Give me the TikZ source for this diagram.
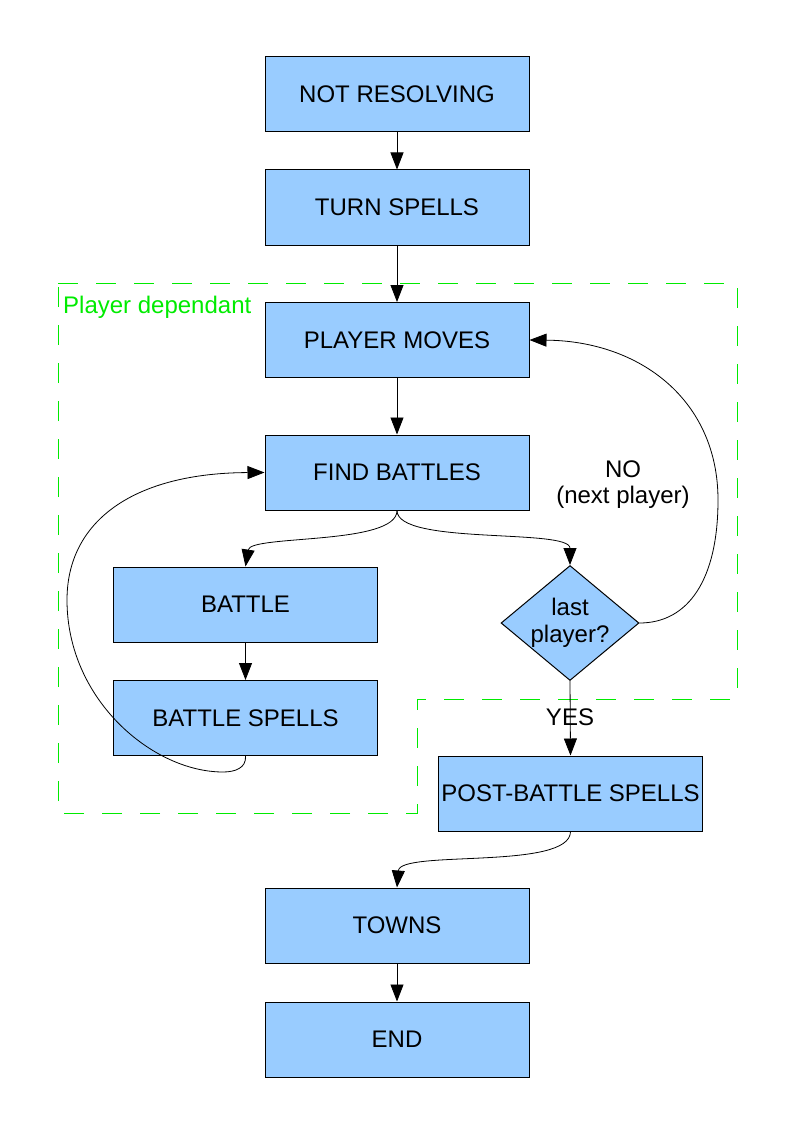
\documentclass[tikz,border=0pt]{standalone}
\usepackage{fontspec}
\setmainfont{Liberation Sans}
\usetikzlibrary{shapes.geometric,arrows.meta}
\definecolor{boxblue}{RGB}{153,204,255}
\definecolor{grn}{RGB}{0,235,0}
\begin{document}
\begin{tikzpicture}[x=1pt,y=-1pt,
  box/.style={draw=black,line width=1pt,fill=boxblue,minimum width=264pt,minimum height=75pt,inner sep=0pt,font=\fontsize{24}{28}\selectfont,align=center},
  decbox/.style={draw=black,line width=1pt,fill=boxblue,shape=diamond,aspect=1.2,minimum width=136pt,minimum height=113pt,inner sep=0pt,font=\fontsize{24}{27}\selectfont,align=center},
  conn/.style={line width=0.8pt,-{Triangle[length=17pt,width=13pt]}},
  lbl/.style={font=\fontsize{24}{28}\selectfont,inner sep=0pt}]
\useasboundingbox (0,0) rectangle (794,1123);
% group frame
\draw[grn,line width=1pt,dash pattern=on 20pt off 18pt] (58,283) -- (737,283) -- (737,699) -- (417,699) -- (417,813) -- (58,813) -- cycle;
\node[lbl,text=grn,anchor=base west] (pd) at (63,313) {Player dependant};
% boxes
\node[box] (nr) at (397,94.5) {NOT RESOLVING};
\node[box] (ts) at (397,207.5) {TURN SPELLS};
\node[box] (pm) at (397,340) {PLAYER MOVES};
\node[box] (fb) at (397,472.5) {FIND BATTLES};
\node[box] (bt) at (245.5,604.5) {BATTLE};
\node[box] (bs) at (245.5,718) {BATTLE SPELLS};
\node[decbox] (dec) at (570,623) {last\\player?};
\node[box] (pb) at (570.5,793.5) {POST-BATTLE SPELLS};
\node[box] (tw) at (397,925.5) {TOWNS};
\node[box] (en) at (397,1039.5) {END};
% labels
\node[lbl,anchor=base] (no) at (623,477) {NO};
\node[lbl,anchor=base] (np) at (623,503) {(next player)};
\node[lbl,anchor=base] (yes) at (570,725) {YES};
% connectors
\draw[conn] (nr) -- (ts);
\draw[conn] (ts) -- (pm);
\draw[conn] (pm) -- (fb);
\draw[conn] (fb.south) .. controls +(0,35) and +(5,-32) .. (bt.north);
\draw[conn] (fb.south) .. controls +(0,35) and +(0,-37) .. (dec.north);
\draw[conn] (bt) -- (bs);
\draw[conn] (bs.south) .. controls +(1,12) and (235,772) .. (223,772) .. controls (153,772) and (67,700) .. (67,600) .. controls (67,520) and (135,473) .. (fb.west);
\draw[conn] (dec.east) .. controls (688,623) and (718,580) .. (718,500) .. controls (718,400) and (640,341) .. (pm.east);
\draw[conn] (dec.south) -- (pb.north);
\draw[conn] (pb.south) .. controls +(0,39) and +(3,-38) .. (tw.north);
\draw[conn] (tw) -- (en);
\end{tikzpicture}
\end{document}
